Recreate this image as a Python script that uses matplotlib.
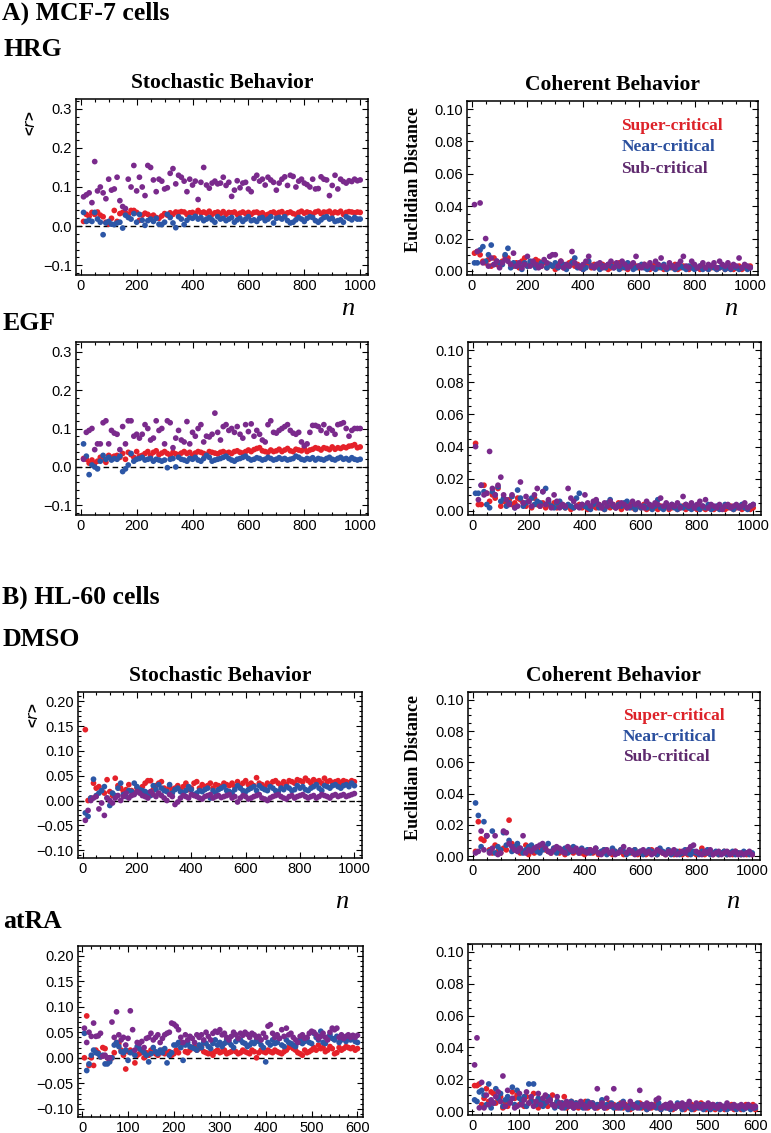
import matplotlib
matplotlib.use("Agg")
import matplotlib.pyplot as plt
from matplotlib.ticker import MultipleLocator
import numpy as np

# values are read off the picture, in thousandths
# HRG, stochastic behavior (<r>), n = 10..1000
hrg_sto_super = [12, 30, 25, 35, 30, 36, 28, 24, 10, 5,
                 20, 40, 12, 32, 35, 34, 30, 40, 40, 35,
                 15, 28, 33, 30, 25, 28, 22, 20, 26, 32,
                 28, 34, 30, 36, 35, 37, 36, 30, 34, 35,
                 32, 40, 34, 36, 33, 38, 30, 34, 36, 32,
                 37, 30, 35, 34, 36, 30, 33, 36, 32, 35,
                 30, 35, 36, 32, 34, 28, 30, 34, 36, 32,
                 35, 37, 30, 34, 36, 32, 30, 35, 38, 33,
                 36, 34, 30, 36, 38, 32, 36, 35, 38, 32,
                 36, 34, 38, 30, 35, 37, 36, 34, 36, 35]
hrg_sto_near = [35, 12, 15, 12, 35, 18, 10, -22, 8, 12,
                5, 4, 8, 10, -5, 28, 22, 18, 32, 10,
                30, 15, 2, 14, 18, 12, 20, 5, 4, 10,
                30, 22, 8, -4, 24, 18, 4, 15, 22, 20,
                25, 18, 22, 14, 18, 22, 16, 10, 24, 18,
                20, 14, 18, 22, 10, 16, 20, 12, 18, 24,
                14, 16, 12, 20, 22, 14, 18, 24, 8, 20,
                22, 18, 24, 14, 8, 10, 16, 22, 18, 12,
                20, 24, 22, 14, 10, 16, 22, 24, 18, 20,
                12, 14, 16, 10, 24, 20, 16, 22, 18, 18]
hrg_sto_sub = [75, 80, 85, 60, 165, 90, 100, 85, 70, 120,
               92, 95, 125, 65, 50, 45, 120, 100, 155, 90,
               125, 100, 78, 155, 150, 118, 88, 120, 115, 95,
               98, 135, 147, 108, 130, 125, 115, 88, 120, 105,
               115, 68, 112, 150, 105, 97, 110, 115, 108, 110,
               125, 104, 112, 76, 92, 116, 98, 110, 112, 95,
               88, 122, 130, 115, 120, 105, 125, 118, 112, 92,
               110, 120, 126, 104, 130, 127, 100, 115, 120, 110,
               106, 100, 120, 95, 96, 126, 120, 118, 78, 104,
               130, 95, 120, 114, 110, 116, 114, 120, 116, 118]

# HRG, coherent behavior (Euclidian distance)
hrg_coh_super = [11, 12, 10, 6, 5, 7, 3, 8, 4, 5,
                 6, 9, 8, 4, 3, 5, 2, 6, 8, 3,
                 5, 4, 7, 6, 3, 5, 2, 4, 3, 1,
                 4, 6, 2, 3, 5, 6, 3, 4, 2, 1,
                 3, 5, 2, 4, 3, 2, 4, 3, 1, 2,
                 4, 3, 5, 2, 3, 1, 4, 2, 3, 2,
                 3, 4, 2, 1, 3, 4, 2, 3, 1, 2,
                 3, 2, 4, 1, 2, 3, 2, 1, 3, 2,
                 2, 1, 3, 2, 1, 2, 3, 1, 2, 3,
                 1, 2, 3, 1, 2, 3, 1, 2, 2, 3]
hrg_coh_near = [5, 5, 13, 15, 6, 10, 16, 4, 6, 5,
                4, 10, 14, 2, 5, 3, 4, 1, 5, 3,
                6, 4, 2, 3, 5, 6, 2, 4, 3, 5,
                2, 3, 4, 1, 3, 5, 8, 2, 3, 1,
                2, 6, 3, 2, 4, 1, 3, 2, 4, 3,
                2, 4, 1, 3, 2, 5, 3, 1, 2, 3,
                4, 2, 1, 3, 2, 1, 3, 2, 4, 1,
                2, 3, 1, 2, 3, 2, 1, 3, 2, 1,
                2, 3, 1, 2, 1, 3, 2, 1, 2, 3,
                1, 2, 1, 3, 2, 1, 2, 3, 1, 2]
hrg_coh_sub = [41, 12, 42, 5, 20, 3, 8, 4, 6, 2,
               5, 7, 6, 4, 11, 3, 5, 2, 4, 9,
               3, 6, 4, 2, 3, 7, 5, 9, 10, 10,
               3, 6, 2, 4, 3, 12, 5, 3, 2, 4,
               6, 9, 3, 2, 4, 5, 2, 3, 4, 6,
               2, 5, 3, 6, 4, 2, 3, 5, 9, 3,
               2, 4, 3, 5, 2, 6, 4, 8, 3, 2,
               5, 3, 2, 4, 6, 9, 3, 2, 6, 4,
               2, 3, 5, 2, 4, 3, 5, 2, 6, 4,
               3, 5, 2, 4, 3, 8, 2, 4, 3, 2]

# EGF, stochastic
egf_sto_super = [22, 20, 10, 18, 10, 15, 25, 20, 12, 30,
                 25, 28, 30, 25, 35, 20, 38, 32, 25, 40,
                 28, 30, 35, 40, 30, 38, 42, 32, 36, 40,
                 35, 30, 38, 34, 32, 36, 40, 35, 38, 30,
                 36, 40, 38, 35, 32, 40, 38, 36, 34, 38,
                 40, 36, 38, 35, 40, 42, 38, 36, 40, 44,
                 40, 45, 48, 50, 42, 40, 38, 44, 40, 42,
                 46, 40, 44, 48, 42, 40, 46, 44, 42, 48,
                 40, 44, 46, 50, 48, 44, 50, 48, 45, 52,
                 46, 50, 48, 52, 50, 54, 55, 58, 50, 52]
egf_sto_near = [60, 28, -20, 5, 0, -5, 15, 30, 20, 25,
                18, 22, 20, 28, -12, -5, 5, 35, 15, 20,
                22, 25, 18, 20, 22, 15, 20, 18, 15, 18,
                -2, 20, 22, 0, 25, 20, 18, 15, 22, 20,
                25, 18, 15, 22, 30, 25, 15, 18, 20, 22,
                25, 28, 22, 18, 15, 20, 22, 25, 28, 22,
                18, 20, 24, 22, 18, 20, 25, 22, 18, 20,
                24, 20, 22, 18, 20, 22, 28, 25, 20, 18,
                22, 20, 24, 18, 22, 20, 18, 22, 25, 20,
                18, 22, 25, 20, 22, 18, 24, 20, 18, 20]
egf_sto_sub = [20, 90, 95, 100, 45, 60, 60, 115, 120, 60,
               95, 88, 85, 45, 105, 60, 120, 120, 80, 85,
               75, 85, 110, 100, 70, 75, 120, 95, 100, 60,
               120, 115, 50, 75, 95, 70, 65, 118, 60, 90,
               80, 100, 110, 65, 80, 78, 85, 140, 90, 70,
               105, 110, 95, 100, 90, 105, 85, 75, 110, 92,
               112, 80, 95, 85, 70, 65, 110, 120, 90, 88,
               95, 100, 105, 110, 95, 88, 85, 90, 65, 55,
               60, 90, 108, 108, 105, 95, 110, 88, 100, 95,
               85, 110, 112, 115, 100, 80, 95, 100, 100, 100]

# EGF, coherent
egf_coh_super = [42, 4, 4, 16, 11, 6, 10, 8, 14, 3,
                 6, 5, 7, 4, 5, 8, 7, 5, 3, 6,
                 2, 8, 4, 3, 5, 2, 4, 3, 5, 2,
                 3, 4, 2, 3, 1, 2, 3, 4, 2, 3,
                 1, 2, 3, 2, 4, 2, 1, 3, 2, 4,
                 2, 5, 1, 3, 2, 4, 2, 1, 3, 2,
                 4, 1, 2, 3, 2, 1, 3, 2, 4, 1,
                 2, 3, 1, 2, 3, 1, 2, 4, 2, 1,
                 3, 2, 1, 2, 3, 1, 2, 3, 2, 1,
                 2, 3, 1, 2, 3, 1, 2, 2, 1, 2]
egf_coh_near = [11, 11, 16, 12, 4, 2, 12, 10, 15, 6,
                8, 3, 5, 9, 2, 13, 8, 3, 5, 6,
                8, 4, 6, 5, 12, 14, 6, 3, 2, 5,
                6, 3, 2, 4, 3, 2, 8, 11, 4, 3,
                2, 1, 4, 6, 2, 3, 1, 5, 7, 3,
                2, 4, 3, 5, 6, 2, 3, 1, 4, 2,
                3, 2, 4, 1, 3, 7, 2, 1, 3, 2,
                4, 2, 1, 3, 2, 4, 2, 1, 3, 2,
                1, 3, 2, 4, 1, 2, 3, 1, 2, 4,
                3, 2, 1, 3, 2, 4, 2, 1, 3, 4]
egf_coh_sub = [40, 7, 16, 10, 11, 37, 14, 10, 16, 21,
               10, 7, 4, 10, 2, 3, 18, 5, 9, 6,
               3, 10, 14, 3, 12, 4, 7, 2, 10, 6,
               2, 4, 3, 14, 8, 6, 3, 2, 4, 10,
               5, 3, 6, 7, 4, 2, 5, 3, 6, 4,
               2, 3, 5, 4, 2, 3, 6, 4, 5, 3,
               2, 6, 4, 3, 5, 4, 8, 3, 5, 2,
               4, 3, 5, 2, 9, 4, 3, 5, 2, 4,
               6, 3, 7, 2, 4, 3, 2, 4, 1, 3,
               4, 2, 3, 4, 2, 3, 5, 2, 3, 4]

# DMSO, stochastic
dmso_sto_super = [143, 0, 5, 35, 25, 28, 20, 15, 42, 18,
                  10, 45, 30, 25, 18, 22, 32, 20, 15, 25,
                  20, 28, 35, 40, 40, 22, 30, 35, 38, 25,
                  20, 28, 22, 25, 30, 22, 28, 35, 22, 25,
                  35, 38, 25, 32, 28, 30, 35, 25, 32, 30,
                  28, 35, 32, 30, 35, 28, 38, 30, 35, 40,
                  32, 35, 30, 46, 35, 32, 28, 35, 30, 38,
                  40, 35, 30, 38, 32, 40, 38, 35, 42, 40,
                  38, 45, 40, 35, 42, 38, 40, 35, 45, 38,
                  40, 36, 38, 40, 35, 40, 38, 36, 40, 38]
dmso_sto_near = [-25, -32, 5, 43, 10, 15, 20, 28, 5, -10,
                 15, 10, 25, 35, 12, 8, 20, 18, 35, 28,
                 22, 20, 18, 15, 10, 30, 22, 32, 25, 20,
                 18, 32, 15, 22, 25, 18, 15, 20, 28, 22,
                 12, 15, 20, 18, 22, 25, 5, 20, 15, 22,
                 25, 28, 20, 18, 15, 22, 30, 25, 20, 18,
                 22, 25, 28, 20, 30, 25, 22, 20, 28, 25,
                 20, 18, 25, 22, 28, 25, 20, 22, 30, 25,
                 28, 22, 20, 25, 28, 32, 25, 20, 30, 28,
                 25, 30, 32, 28, 25, 30, 32, 28, 35, 30]
dmso_sto_sub = [-40, -20, 0, 5, 8, -17, -5, -30, 5, 0,
                -5, 5, 10, 0, 8, 15, 5, 10, 12, 18,
                15, 10, 8, 5, 18, 12, 8, 15, 10, 5,
                0, 12, 8, -8, -3, 5, 10, 8, 5, 12,
                10, 8, 5, 3, 8, 10, 12, 5, 8, 10,
                6, 8, 10, 12, 5, 8, -3, 5, 10, 8,
                3, 5, 8, 10, 12, 5, 3, 0, 5, 8,
                10, 12, 8, 5, 3, 8, 10, 5, 8, 10,
                12, 8, 5, 8, 10, 5, 8, 12, 10, 8,
                5, 10, 12, 8, 10, 12, 8, 10, 12, 14]

# DMSO, coherent
dmso_coh_super = [3, 22, 11, 10, 13, 4, 2, 7, 3, 2,
                  5, 4, 23, 8, 4, 6, 2, 3, 7, 1,
                  4, 2, 5, 3, 6, 4, 3, 2, 5, 3,
                  2, 4, 1, 3, 5, 2, 4, 3, 2, 1,
                  3, 4, 2, 3, 1, 2, 4, 3, 2, 1,
                  3, 2, 4, 1, 2, 3, 2, 4, 1, 2,
                  3, 1, 2, 4, 2, 1, 3, 2, 1, 2,
                  3, 1, 2, 3, 1, 2, 1, 3, 2, 1,
                  2, 5, 1, 2, 3, 1, 2, 1, 2, 3,
                  1, 2, 1, 3, 2, 1, 2, 1, 2, 1]
dmso_coh_near = [34, 26, 6, 22, 13, 3, 16, 2, 6, 4,
                 15, 7, 10, 3, 6, 8, 5, 2, 4, 6,
                 7, 5, 3, 2, 4, 6, 8, 3, 5, 2,
                 4, 3, 5, 2, 3, 6, 4, 2, 5, 3,
                 4, 2, 3, 5, 2, 3, 4, 1, 2, 5,
                 3, 2, 4, 3, 1, 2, 3, 4, 2, 3,
                 1, 2, 4, 3, 2, 1, 5, 3, 2, 4,
                 1, 2, 3, 1, 2, 4, 2, 1, 3, 2,
                 1, 3, 2, 4, 1, 2, 3, 1, 2, 3,
                 1, 2, 3, 1, 2, 1, 3, 2, 1, 2]
dmso_coh_sub = [2, 3, 16, 4, 13, 2, 5, 13, 1, 2,
                16, 15, 8, 6, 4, 3, 5, 13, 2, 4,
                3, 5, 6, 7, 8, 5, 3, 2, 4, 6,
                5, 3, 2, 6, 4, 3, 5, 2, 4, 3,
                2, 4, 3, 5, 2, 1, 3, 4, 2, 3,
                1, 2, 3, 6, 2, 4, 3, 1, 2, 3,
                4, 2, 3, 1, 2, 4, 3, 2, 1, 3,
                2, 4, 1, 2, 3, 2, 4, 6, 7, 3,
                2, 1, 3, 2, 4, 1, 2, 3, 1, 2,
                3, 1, 2, 3, 1, 2, 1, 2, 3, 1]

# atRA, stochastic, n = 5..600
atra_sto_super = [0, 82, -15, 0, -15, 15, 10, 2, 20, 18,
                  0, -5, 0, 10, 30, 28, 15, 5, -22, 12,
                  15, 10, -10, 5, 8, 12, 0, 10, 5, 15,
                  12, 8, 5, 10, 15, 8, 10, 12, 5, 8,
                  15, 10, 30, 28, 12, 10, 15, 20, 22, 15,
                  18, 22, 12, 10, 8, 10, 5, 12, 15, 10,
                  12, 15, 8, 10, 12, 15, 12, 8, 10, 15,
                  12, 10, 8, 15, 12, 0, 10, 15, 12, 10,
                  15, 12, 10, 15, 12, 10, 8, 12, 15, 20,
                  25, 18, 15, 10, 8, 5, 15, 10, 12, 15,
                  20, 15, 25, 18, 20, 12, 15, 22, 18, 8,
                  10, 20, 15, 18, 22, 20, 18, 20, 15, 18]
atra_sto_near = [48, -25, -12, 5, 15, 10, 8, 2, 5, -12,
                 -12, -8, 0, 25, 30, 22, 12, 10, 15, -5,
                 10, 12, 5, 22, 18, 15, 10, 5, -8, 8,
                 20, 12, 8, 15, 10, 18, -10, 5, 10, 25,
                 25, 30, 20, -5, 25, 30, 22, 20, 18, 15,
                 25, 20, 30, 28, 22, 18, 28, 35, 25, 30,
                 22, 28, 35, 30, 25, 20, 32, 38, 35, 30,
                 28, 22, 25, 30, 28, 35, 32, 25, 20, -8,
                 30, 25, 35, 28, 30, 38, 25, 22, 35, 30,
                 28, 25, 22, 30, 35, 28, 32, 38, 30, 28,
                 48, 40, 35, 52, 30, 28, 40, 45, 38, 35,
                 42, 30, 35, 38, 32, 40, 35, 38, 32, 30]
atra_sto_sub = [58, 30, 50, 42, 68, 42, 43, 48, 3, 5,
                0, 0, 70, 40, 90, 45, 35, 40, 25, 38,
                92, 55, 15, 30, 28, 32, 20, 38, 40, 48,
                35, 40, 45, 30, 38, 45, 48, 50, 68, 66,
                62, 55, 40, 30, 45, 35, 42, 38, 30, 45,
                40, 45, 35, 50, 42, 35, 48, 52, 50, 55,
                45, 48, 40, 35, 42, 50, 45, 38, 48, 44,
                50, 46, 40, 48, 45, 40, 42, 35, 48, 40,
                62, 65, 48, 40, 45, 38, 55, 42, 58, 45,
                48, 40, 35, 30, 42, 45, 38, 40, 48, 52,
                50, 45, 38, 42, 48, 40, 35, 50, 58, 55,
                58, 40, 45, 38, 42, 45, 40, 44, 40, 44]

# atRA, coherent
atra_coh_super = [16, 16, 17, 4, 8, 14, 6, 12, 11, 5,
                  7, 9, 2, 5, 3, 6, 12, 8, 10, 4,
                  6, 3, 9, 5, 7, 11, 4, 2, 6, 8,
                  5, 3, 7, 10, 4, 6, 3, 5, 9, 2,
                  4, 6, 3, 5, 2, 4, 3, 6, 2, 4,
                  5, 3, 2, 4, 6, 3, 2, 5, 3, 4,
                  2, 3, 5, 2, 4, 3, 1, 2, 4, 3,
                  5, 2, 3, 1, 4, 2, 3, 5, 2, 1,
                  3, 4, 2, 3, 1, 2, 4, 3, 2, 1,
                  3, 2, 4, 1, 2, 3, 5, 2, 1, 3,
                  2, 4, 1, 2, 3, 2, 1, 3, 2, 4,
                  1, 2, 3, 1, 2, 4, 3, 2, 4, 1]
atra_coh_near = [7, 6, 12, 13, 10, 4, 17, 2, 5, 14,
                 8, 11, 3, 7, 9, 6, 15, 4, 13, 8,
                 5, 9, 3, 17, 6, 17, 4, 8, 6, 3,
                 5, 9, 7, 4, 2, 6, 3, 5, 2, 4,
                 3, 6, 2, 5, 4, 3, 2, 4, 6, 3,
                 5, 2, 4, 3, 7, 2, 4, 3, 5, 2,
                 3, 4, 2, 6, 3, 1, 4, 2, 3, 5,
                 2, 4, 3, 1, 2, 4, 3, 2, 5, 1,
                 3, 2, 4, 1, 3, 2, 5, 3, 1, 2,
                 4, 3, 1, 2, 3, 2, 4, 1, 3, 2,
                 1, 3, 2, 4, 1, 2, 3, 1, 2, 3,
                 2, 1, 3, 2, 1, 2, 3, 1, 2, 2]
atra_coh_sub = [29, 46, 2, 18, 2, 10, 4, 7, 5, 9,
                12, 6, 22, 3, 13, 5, 8, 2, 3, 11,
                4, 7, 12, 5, 9, 3, 6, 11, 4, 8,
                10, 6, 7, 4, 3, 9, 5, 2, 4, 6,
                3, 5, 2, 4, 3, 6, 4, 2, 3, 5,
                4, 2, 14, 3, 5, 2, 8, 3, 4, 14,
                3, 2, 4, 5, 3, 2, 6, 4, 3, 2,
                13, 4, 3, 5, 2, 4, 3, 7, 8, 2,
                3, 4, 2, 5, 3, 2, 4, 3, 5, 2,
                4, 6, 3, 2, 5, 3, 2, 4, 3, 5,
                2, 4, 3, 2, 4, 3, 2, 5, 3, 2,
                4, 3, 2, 4, 3, 2, 4, 3, 2, 3]

legend_labels = ["Super-critical", "Near-critical", "Sub-critical"]
point_colors = ["#e5212a", "#2c56a6", "#7a2a8c"]
label_colors = ["#dd2229", "#2a4f9e", "#5f2a6e"]

SERIF = "Liberation Serif"
SANS = "Liberation Sans"

W, H = 771, 1133
fig = plt.figure(figsize=(W / 100, H / 100), dpi=100)


def add_panel(l, t, r, b):
    # pixel box -> figure fraction
    return fig.add_axes([l / W, 1 - b / H, (r - l) / W, (b - t) / H])


def style(ax, xlim, ylim, xmaj, xmin, ymaj, ymin, yfmt):
    ax.set_xlim(*xlim)
    ax.set_ylim(*ylim)
    ax.xaxis.set_major_locator(MultipleLocator(xmaj))
    ax.xaxis.set_minor_locator(MultipleLocator(xmin))
    ax.yaxis.set_major_locator(MultipleLocator(ymaj))
    ax.yaxis.set_minor_locator(MultipleLocator(ymin))
    ax.yaxis.set_major_formatter(plt.FuncFormatter(lambda v, p: (yfmt % v).replace("-", "\u2212")))
    ax.tick_params(which="both", direction="in", top=True, right=True, width=0.8,
                   labelsize=10.5, pad=3)
    ax.tick_params(which="major", length=4)
    ax.tick_params(which="minor", length=2)
    for lab in ax.get_xticklabels() + ax.get_yticklabels():
        lab.set_fontfamily(SANS)
    for s in ax.spines.values():
        s.set_linewidth(1.1)


def draw(ax, step, series, scale=1000.0):
    for vals, c in zip(series, point_colors):
        y = np.array(vals) / scale
        x = step * np.arange(1, len(y) + 1)
        ax.scatter(x, y, s=17, color=c, edgecolors="none", zorder=3)


panels = [
    # (box px, step, data, kind)
    ((76, 99, 368, 275), 10, [hrg_sto_super, hrg_sto_near, hrg_sto_sub], "sto1"),
    ((467, 101, 758, 275), 10, [hrg_coh_super, hrg_coh_near, hrg_coh_sub], "coh"),
    ((76, 342, 368, 515), 10, [egf_sto_super, egf_sto_near, egf_sto_sub], "sto1"),
    ((468, 342, 761, 515), 10, [egf_coh_super, egf_coh_near, egf_coh_sub], "coh"),
    ((78, 692, 362, 858), 10, [dmso_sto_super, dmso_sto_near, dmso_sto_sub], "sto2"),
    ((468, 692, 760, 860), 10, [dmso_coh_super, dmso_coh_near, dmso_coh_sub], "coh"),
    ((78, 946, 363, 1117), 5, [atra_sto_super, atra_sto_near, atra_sto_sub], "sto2"),
    ((468, 944, 761, 1115), 5, [atra_coh_super, atra_coh_near, atra_coh_sub], "coh"),
]

axes = []
for box, step, data, kind in panels:
    ax = add_panel(*box)
    draw(ax, step, data)
    if step == 10:
        xlim, xmaj, xmin = (-17, 1028), 200, 50
    else:
        xlim, xmaj, xmin = (-9, 612), 100, 20
    if kind == "sto1":
        style(ax, xlim, (-0.125, 0.325), xmaj, xmin, 0.1, 0.02, "%.1f")
    elif kind == "sto2":
        style(ax, xlim, (-0.116, 0.219), xmaj, xmin, 0.05, 0.01, "%.2f")
    else:
        style(ax, xlim, (-0.0025, 0.105), xmaj, xmin, 0.02, 0.005, "%.2f")
    if kind != "coh":
        ax.axhline(0, color="black", lw=1.0, ls=(0, (4, 2.5)), zorder=2)
    axes.append(ax)

# column titles
for ax in (axes[0], axes[4]):
    ax.set_title("Stochastic Behavior", fontfamily=SERIF, fontweight="bold", fontsize=15.5, pad=8)
for ax in (axes[1], axes[5]):
    ax.set_title("Coherent Behavior", fontfamily=SERIF, fontweight="bold", fontsize=15.5, pad=8)

# y labels
for ax in (axes[0], axes[4]):
    ax.text(-0.155, 0.86, r"<$\mathit{r}$>", transform=ax.transAxes, rotation=90,
            ha="center", va="center", fontsize=11, fontweight="bold", fontfamily=SANS)
for ax in (axes[1], axes[5]):
    ax.text(-0.185, 0.55, "Euclidian Distance", transform=ax.transAxes, rotation=90,
            ha="center", va="center", fontsize=13, fontweight="bold", fontfamily=SERIF)

# legends as coloured text
for ax in (axes[1], axes[5]):
    for i, (lab, c) in enumerate(zip(legend_labels, label_colors)):
        ax.text(0.53, 0.855 - 0.122 * i, lab, transform=ax.transAxes, color=c,
                ha="left", va="center", fontsize=12.5, fontweight="bold", fontfamily=SERIF)

# n labels
for x, y in [(348, 309), (731, 309), (342, 902), (733, 902)]:
    fig.text(x / W, 1 - y / H, "n", ha="center", va="center", fontsize=19,
             fontstyle="italic", fontfamily=SERIF)

# section and condition headings
heads = [("A) MCF-7 cells", 2, 13), ("HRG", 3, 50), ("EGF", 3, 323),
         ("B) HL-60 cells", 2, 597), ("DMSO", 3, 640), ("atRA", 3, 922)]
for txt, x, y in heads:
    fig.text(x / W, 1 - y / H, txt, ha="left", va="center", fontsize=18.5,
             fontweight="bold", fontfamily=SERIF)

fig.savefig("out.png", dpi=100)
